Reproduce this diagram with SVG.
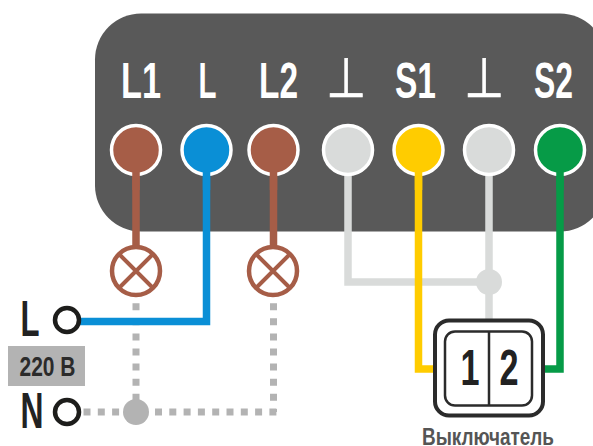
<svg xmlns="http://www.w3.org/2000/svg" width="593" height="446" viewBox="0 0 593 446">
<style>
.w{fill:none;stroke-width:7.5}
.t{font-family:"Liberation Sans Narrow","Liberation Sans",sans-serif;font-weight:700;text-anchor:middle}
.h{fill:#fff;font-size:50px}
.g{fill:#fff;stroke:#fff;stroke-width:.6;font-family:"DejaVu Sans",sans-serif;font-size:46px;text-anchor:middle}
.p{stroke:#fff;stroke-width:3.5}
.lamp{fill:#fff;stroke:#a65d47;stroke-width:4.5}
.d{fill:none;stroke:#b3b3b3;stroke-width:7}
.b{fill:#222;font-size:50px}
</style>
<rect width="593" height="446" fill="#fff"/>
<g id="panel">
<rect x="95" y="13.500" width="511" height="218" rx="46" fill="#595959"/>
</g>
<g id="connectors">
<path class="d" stroke-dasharray="7 8.100" d="M136 303.200V412"/>
<path class="d" stroke-dasharray="7 7.300" d="M83.500 412H277"/>
<path class="d" stroke-dasharray="7 8.100" d="M273.500 303.200V412"/>
<path class="w" stroke="#a65d47" d="M136 150V250M273.500 150V250"/>
<path class="w" stroke="#0a8fd6" d="M75 321.500H206.500V150"/>
<path class="w" stroke="#d9dbda" d="M348 150V282H489M489 150V322"/>
<path class="w" stroke="#ffcc00" d="M418.500 150V369H435"/>
<path class="w" stroke="#069b47" d="M560 150V369H543"/>
<circle cx="489" cy="282" r="13" fill="#d9dbda"/>
<circle cx="136" cy="412" r="13" fill="#b3b3b3"/>
</g>
<g id="term-L1"><circle class="p" cx="136" cy="150" r="24.500" fill="#a65d47"/><path class="w" stroke="#a65d47" d="M136 172V190"/><text class="t h" x="141" y="98" textLength="40" lengthAdjust="spacingAndGlyphs">L1</text></g>
<g id="term-L"><circle class="p" cx="206.500" cy="150" r="24.500" fill="#0a8fd6"/><path class="w" stroke="#0a8fd6" d="M206.500 172V190"/><text class="t h" x="207.500" y="98" textLength="18" lengthAdjust="spacingAndGlyphs">L</text></g>
<g id="term-L2"><circle class="p" cx="273.500" cy="150" r="24.500" fill="#a65d47"/><path class="w" stroke="#a65d47" d="M273.500 172V190"/><text class="t h" x="278.500" y="98" textLength="39" lengthAdjust="spacingAndGlyphs">L2</text></g>
<g id="term-gnd1"><circle class="p" cx="348" cy="150" r="24.500" fill="#d9dbda"/><text class="g" transform="translate(346 97) scale(1 1.2)">⊥</text></g>
<g id="term-S1"><circle class="p" cx="418.500" cy="150" r="24.500" fill="#ffcc00"/><path class="w" stroke="#ffcc00" d="M418.500 172V190"/><text class="t h" x="415.500" y="98" textLength="41" lengthAdjust="spacingAndGlyphs">S1</text></g>
<g id="term-gnd2"><circle class="p" cx="489" cy="150" r="24.500" fill="#d9dbda"/><text class="g" transform="translate(484 97) scale(1 1.2)">⊥</text></g>
<g id="term-S2"><circle class="p" cx="560" cy="150" r="24.500" fill="#069b47"/><path class="w" stroke="#069b47" d="M560 172V190"/><text class="t h" x="553.500" y="98" textLength="39" lengthAdjust="spacingAndGlyphs">S2</text></g>
<g id="lamp1"><circle class="lamp" cx="136" cy="271" r="24"/><path fill="none" stroke="#a65d47" stroke-width="4" d="M119 254L153 288M153 254L119 288"/></g>
<g id="lamp2"><circle class="lamp" cx="273" cy="271" r="24"/><path fill="none" stroke="#a65d47" stroke-width="4" d="M256 254L290 288M290 254L256 288"/></g>
<g id="input-L"><text class="t b" x="30" y="336" textLength="19" lengthAdjust="spacingAndGlyphs">L</text><circle cx="67" cy="320" r="12" fill="#fff" stroke="#1d1d1b" stroke-width="4.500"/></g>
<g id="voltage"><rect x="8" y="346" width="77" height="40" fill="#b3b3b3"/><text class="t" x="47.500" y="376" font-size="28" fill="#2b2b2b" textLength="56" lengthAdjust="spacingAndGlyphs">220 В</text></g>
<g id="input-N"><text class="t b" x="32" y="428" textLength="23" lengthAdjust="spacingAndGlyphs">N</text><circle cx="67" cy="412" r="12" fill="#fff" stroke="#1d1d1b" stroke-width="4.500"/></g>
<g id="switch">
<rect x="435" y="320.500" width="108" height="95" rx="14" fill="#fff" stroke="#2b2b2b" stroke-width="4"/>
<rect x="445" y="331.500" width="87" height="74" rx="10" fill="none" stroke="#2b2b2b" stroke-width="2.500"/>
<path d="M489 331V406" stroke="#2b2b2b" stroke-width="2.500"/>
<text class="t b" x="470" y="385" textLength="19" lengthAdjust="spacingAndGlyphs">1</text>
<text class="t b" x="509" y="385" textLength="19" lengthAdjust="spacingAndGlyphs">2</text>
<text class="t" x="488" y="444.500" font-size="24" fill="#555" textLength="132" lengthAdjust="spacingAndGlyphs">Выключатель</text>
</g>
</svg>
